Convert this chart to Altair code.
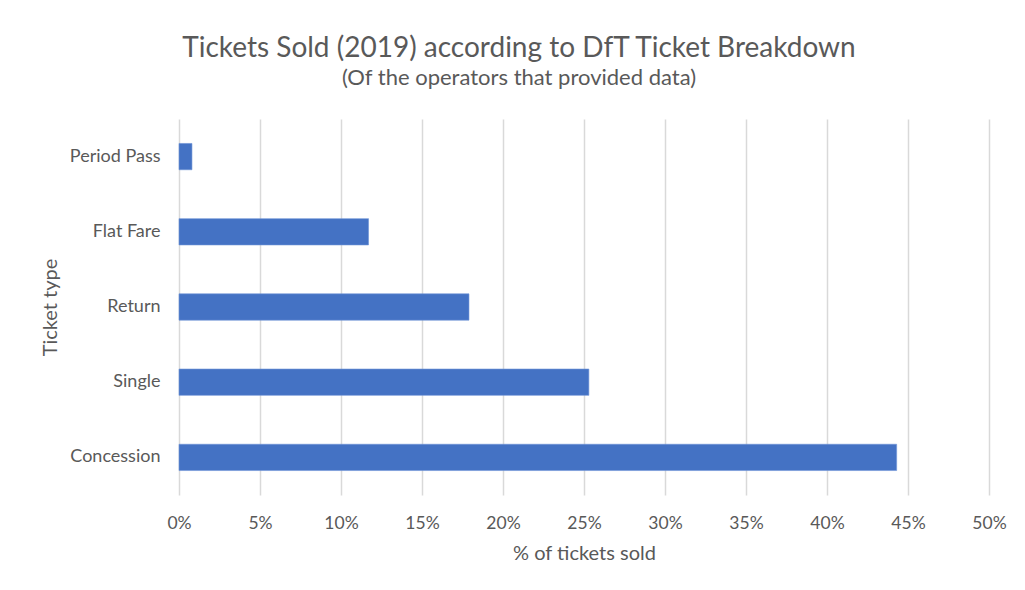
import altair as alt
import pandas as pd

categories = ["Period Pass", "Flat Fare", "Return", "Single", "Concession"]
values = [0.008, 0.117, 0.179, 0.253, 0.443]
x_ticks = [0, 0.05, 0.10, 0.15, 0.20, 0.25, 0.30, 0.35, 0.40, 0.45, 0.50]

df = pd.DataFrame({"ticket": categories, "share": values})

FONT = "Lato"
GREY = "#595959"

chart = alt.Chart(df).mark_bar(color="#4472C4", stroke="#6f93d6", strokeWidth=0.6).encode(
    x=alt.X(
        "share:Q",
        scale=alt.Scale(domain=[0, 0.5], nice=False),
        axis=alt.Axis(
            values=x_ticks,
            format=".0%",
            title="% of tickets sold",
            grid=True,
            gridColor="#d9d9d9",
            gridWidth=1.5,
            domain=False,
            ticks=False,
            labelFlush=False,
            labelPadding=19,
            labelFontSize=17.5,
            labelColor=GREY,
            labelFont=FONT,
            titleFont=FONT,
            titleFontSize=20,
            titleColor=GREY,
            titleFontWeight="normal",
            titleX=405,
            titleY=58,
            titleBaseline="middle",
        ),
    ),
    y=alt.Y(
        "ticket:N",
        sort=categories,
        scale=alt.Scale(paddingInner=0.65, paddingOuter=0.325),
        axis=alt.Axis(
            title="Ticket type",
            domain=False,
            ticks=False,
            grid=False,
            labelPadding=19,
            labelFontSize=18,
            labelColor=GREY,
            labelFont=FONT,
            titleFont=FONT,
            titleFontSize=20,
            titleColor=GREY,
            titleFontWeight="normal",
            titleX=-129,
            titleY=188,
            titleAngle=-90,
            titleAlign="center",
            titleBaseline="middle",
        ),
    ),
).properties(
    width=810,
    height=376,
    background="white",
    title=alt.TitleParams(
        text="Tickets Sold (2019) according to DfT Ticket Breakdown",
        subtitle="(Of the operators that provided data)",
        anchor="middle",
        frame="group",
        dx=-65,
        offset=30,
        font=FONT,
        fontSize=28,
        fontWeight="normal",
        color=GREY,
        subtitleFont=FONT,
        subtitleFontSize=22,
        subtitleColor=GREY,
        subtitlePadding=5,
    ),
    autosize=alt.AutoSizeParams(type="none"),
    padding={"left": 171, "top": 111, "right": 20, "bottom": 90},
).configure_view(strokeWidth=0, stroke=None)

chart.save("out.html", embed_options={"renderer": "svg", "actions": False})
